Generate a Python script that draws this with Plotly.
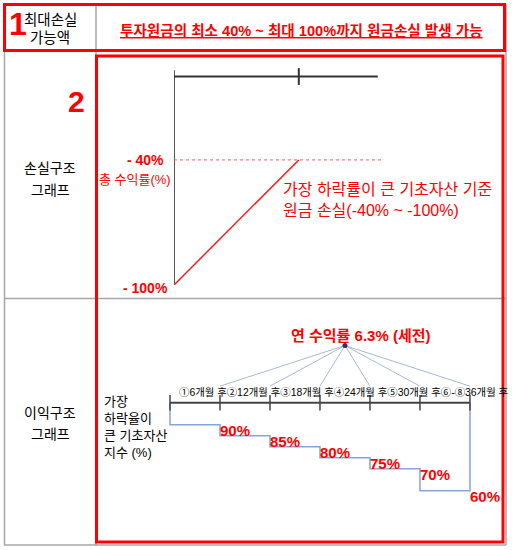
import plotly.graph_objects as go

W, H = 519, 550

# loss structure: underlying price at maturity (%) -> total return (%)
loss_price = [0, 60]
loss_return = [-100, -40]
loss_cap = -40
loss_tick = 60

# profit structure: early redemption schedule
months = [6, 12, 18, 24, 30, 36]
barriers = [90, 85, 80, 75, 70, 60]
month_labels = ["①6개월 후", "②12개월 후", "③18개월 후", "④24개월 후", "⑤30개월 후", "⑥-⑧36개월 후"]
annual_return = 6.3

RED = "#ff0000"
GRAY = "#a6a6a6"
FONT = "Liberation Sans, Noto Sans CJK KR, sans-serif"


def fx(px):
    return px / W


def fy(py):
    return 1 - py / H


fig = go.Figure()

# ---- loss chart (x / y) ----
fig.add_trace(go.Scatter(x=[0, 0], y=[3, -100], mode="lines",
                         line=dict(color="#222222", width=1.5), xaxis="x", yaxis="y"))
fig.add_trace(go.Scatter(x=[0, 98], y=[0, 0], mode="lines",
                         line=dict(color="#333333", width=2), xaxis="x", yaxis="y"))
fig.add_trace(go.Scatter(x=[loss_tick], y=[0], mode="markers",
                         marker=dict(symbol="line-ns", size=12,
                                     line=dict(color="#333333", width=2)),
                         xaxis="x", yaxis="y"))
fig.add_trace(go.Scatter(x=[0, 100], y=[loss_cap, loss_cap], mode="lines",
                         line=dict(color="#ff5a5a", width=1, dash="dot"), xaxis="x", yaxis="y"))
fig.add_trace(go.Scatter(x=loss_price, y=loss_return, mode="lines",
                         line=dict(color="#ff1a1a", width=1.5), xaxis="x", yaxis="y"))

# ---- profit chart (x2 / y2) ----
step_x, step_y, prev = [0], [100], 0
for m, b in zip(months, barriers):
    step_x += [prev, m]
    step_y += [b, b]
    prev = m
step_x.append(months[-1])
step_y.append(100)

fan_x, fan_y = [], []
fan_origin = (21, 126)
for m in months:
    fan_x += [fan_origin[0], m, None]
    fan_y += [fan_origin[1], 107.5, None]

fig.add_trace(go.Scatter(x=fan_x, y=fan_y, mode="lines",
                         line=dict(color="#a9b8d8", width=1), xaxis="x2", yaxis="y2"))
fig.add_trace(go.Scatter(x=[fan_origin[0]], y=[fan_origin[1]], mode="markers",
                         marker=dict(color="#1f3864", size=5), xaxis="x2", yaxis="y2"))
fig.add_trace(go.Scatter(x=step_x, y=step_y, mode="lines",
                         line=dict(color="#86a3da", width=1.5), xaxis="x2", yaxis="y2"))
fig.add_trace(go.Scatter(x=[0, months[-1]], y=[100, 100], mode="lines",
                         line=dict(color="#444444", width=2), xaxis="x2", yaxis="y2"))
fig.add_trace(go.Scatter(x=[0] + months, y=[100] * (len(months) + 1), mode="markers",
                         marker=dict(symbol="line-ns", size=11,
                                     line=dict(color="#444444", width=1.5)),
                         xaxis="x2", yaxis="y2"))
fig.add_trace(go.Scatter(x=months, y=barriers, mode="text",
                         text=[f"<b>{b}%</b>" for b in barriers],
                         textposition="bottom right",
                         textfont=dict(family=FONT, size=15, color=RED),
                         xaxis="x2", yaxis="y2"))

fig.update_traces(hoverinfo="skip", showlegend=False)

ann = []


def text(x, y, t, size=14, color="black", xa="center", ya="middle", **kw):
    ann.append(dict(x=fx(x), y=fy(y), xref="paper", yref="paper", text=t, showarrow=False,
                    xanchor=xa, yanchor=ya, font=dict(family=FONT, size=size, color=color), **kw))


text(7, 24, "<b>1</b>", size=32, color=RED, xa="left")
text(50, 20, "최대손실", size=14.5)
text(50, 38, "가능액", size=14.5)
text(301, 31, "<b><u>투자원금의 최소 40% ~ 최대 100%까지 원금손실 발생 가능</u></b>",
     size=14.6, color=RED)
text(66, 102, "<b>2</b>", size=30, color=RED, xa="left")
text(50, 168, "손실구조")
text(50, 190, "그래프")
text(50, 413, "이익구조")
text(50, 434, "그래프")

text(166, 160, "<b>- 40%</b>", size=14, color=RED, xa="right")
text(173, 179, "총 수익률(%)", size=13, color=RED, xa="right")
text(170, 288, "<b>- 100%</b>", size=14, color=RED, xa="right")
text(281, 200, "가장 하락률이 큰 기초자산 기준<br>원금 손실(-40% ~ -100%)", size=16,
     color=RED, xa="left", align="left")

text(360, 335, f"<b>연 수익률 {annual_return}% (세전)</b>", size=15, color=RED)
text(102, 427, "가장<br>하락율이<br>큰 기초자산<br>지수 (%)", size=13, xa="left", align="left")

ann.append(dict(x=0, y=100, xref="x2", yref="y2", text="".join(month_labels), showarrow=False,
                xanchor="left", yanchor="bottom", xshift=7, yshift=3,
                font=dict(family=FONT, size=10.4, color="black")))

shapes = []


def seg(x0, y0, x1, y1, color=GRAY, width=1.5):
    shapes.append(dict(type="line", xref="paper", yref="paper",
                       x0=fx(x0), y0=fy(y0), x1=fx(x1), y1=fy(y1),
                       line=dict(color=color, width=width)))


seg(4.5, 4, 4.5, 545)
seg(4, 545, 506, 545)
seg(506, 4, 506, 545)
seg(96, 4, 96, 545)
seg(4, 298.5, 506, 298.5)

for x0, y0, x1, y1 in [(4.5, 4.5, 504.5, 50.5), (96.5, 56, 503, 542)]:
    shapes.append(dict(type="rect", xref="paper", yref="paper",
                       x0=fx(x0), y0=fy(y1), x1=fx(x1), y1=fy(y0),
                       line=dict(color=RED, width=3)))

fig.update_layout(
    width=W, height=H, autosize=False,
    margin=dict(l=0, r=0, t=0, b=0),
    paper_bgcolor="white", plot_bgcolor="rgba(0,0,0,0)",
    xaxis=dict(domain=[fx(174), fx(382)], range=[0, 100], visible=False, fixedrange=True),
    yaxis=dict(domain=[fy(285), fy(66.1)], range=[-100, 5], visible=False, fixedrange=True),
    xaxis2=dict(domain=[fx(120), fx(503.3)], range=[-6, 40], visible=False,
                fixedrange=True, anchor="y2"),
    yaxis2=dict(domain=[fy(501.7), fy(325.7)], range=[55, 135], visible=False,
                fixedrange=True, anchor="x2"),
    annotations=ann,
    shapes=shapes,
)

# page body has a default 8px margin; drop it so the figure sits at the corner
fig.write_html("out.html", config={"displayModeBar": False},
               post_script="document.body.style.margin='0';document.body.style.overflow='hidden';")
